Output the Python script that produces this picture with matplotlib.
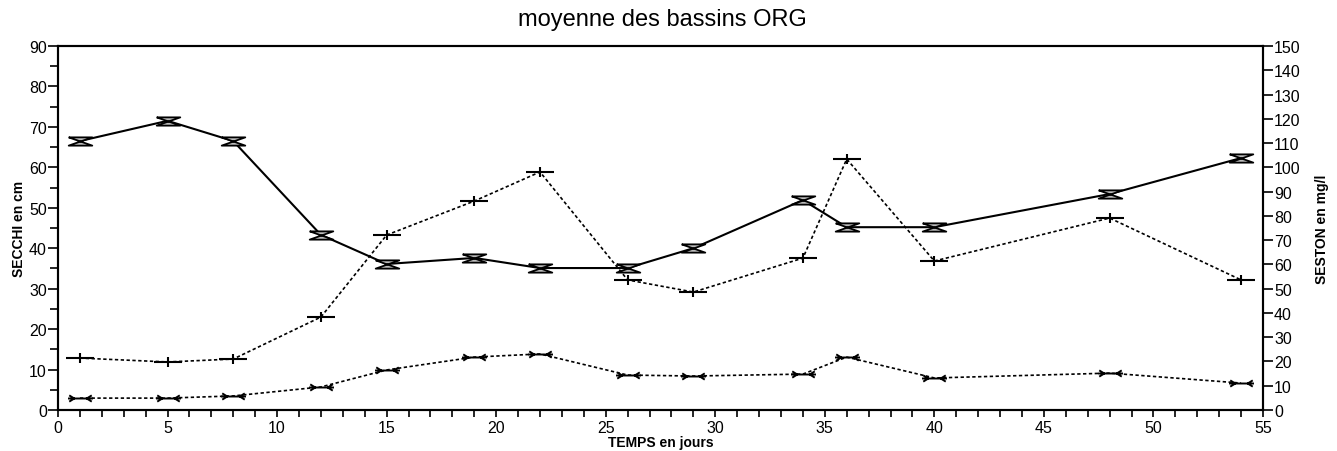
import matplotlib
matplotlib.use("Agg")
import matplotlib.pyplot as plt
from matplotlib.path import Path
from matplotlib.ticker import MultipleLocator

plt.rcParams['font.family'] = ['Liberation Sans', 'DejaVu Sans']

# Data
days = [1, 5, 8, 12, 15, 19, 22, 26, 29, 34, 36, 40, 48, 54]
secchi_cm = [66.5, 71.5, 66.5, 43.3, 36.1, 37.6, 35.1, 35.1, 40.0, 51.9, 45.2, 45.2, 53.4, 62.3]
seston_total = [21.4, 19.8, 21.0, 38.3, 72.1, 86.1, 98.1, 53.6, 48.6, 62.6, 103.4, 61.4, 79.1, 53.6]
seston_org = [4.9, 4.9, 5.8, 9.5, 16.5, 21.8, 23.1, 14.4, 14.0, 14.8, 21.8, 13.2, 15.2, 11.1]

title = "moyenne des bassins ORG"
xlabel = "TEMPS en jours"
ylabel_left = "SECCHI en cm"
ylabel_right = "SESTON en mg/l"

# Custom markers
hourglass = Path([(-1, 0.35), (1, 0.35), (-1, -0.35), (1, -0.35), (-1, 0.35)],
                 [Path.MOVETO, Path.LINETO, Path.LINETO, Path.LINETO, Path.LINETO])
plus_wide = Path([(-1, 0), (1, 0), (0, 0.35), (0, -0.35)],
                 [Path.MOVETO, Path.LINETO, Path.MOVETO, Path.LINETO])
bow_wide = Path([(-1, 0), (1, 0), (-0.9, 0.25), (-0.5, 0), (-0.9, -0.25),
                 (0.9, 0.25), (0.5, 0), (0.9, -0.25)],
                [Path.MOVETO, Path.LINETO, Path.MOVETO, Path.LINETO, Path.LINETO,
                 Path.MOVETO, Path.LINETO, Path.LINETO])

fig = plt.figure(figsize=(13.37, 4.52), dpi=100)
ax = fig.add_axes([58 / 1337, 1 - 411 / 452, (1263 - 58) / 1337, (411 - 47) / 452])
ax2 = ax.twinx()

ax.plot(days, secchi_cm, color='black', lw=1.5, marker=hourglass, markersize=17,
        markerfacecolor='#bbbbbb', markeredgecolor='black', markeredgewidth=1.3)
ax2.plot(days, seston_total, color='black', lw=1.2, ls=(0, (2, 1.5)), marker=plus_wide,
         markersize=20, markeredgewidth=1.5, markeredgecolor='black')
ax2.plot(days, seston_org, color='black', lw=1.2, ls=(0, (2, 1.5)), marker=bow_wide,
         markersize=18, markeredgewidth=1.4, markeredgecolor='black', markerfacecolor='none')

ax.set_xlim(0, 55)
ax.set_ylim(0, 90)
ax2.set_ylim(0, 150)

ax.xaxis.set_major_locator(MultipleLocator(5))
ax.xaxis.set_minor_locator(MultipleLocator(1))
ax.yaxis.set_major_locator(MultipleLocator(10))
ax.yaxis.set_minor_locator(MultipleLocator(5))
ax2.yaxis.set_major_locator(MultipleLocator(10))

ax.tick_params(axis='x', which='both', direction='out', length=5, width=1.2, labelsize=11.5, pad=2)
ax.tick_params(axis='y', which='major', direction='out', length=7, width=1.2, labelsize=11.5, pad=1)
ax.tick_params(axis='y', which='minor', direction='out', length=6, width=1.2)
ax2.tick_params(axis='y', which='major', direction='out', length=7, width=1.2, labelsize=11.5, pad=1)

for a in (ax, ax2):
    for s in a.spines.values():
        s.set_linewidth(1.5)

ax.set_xlabel(xlabel, fontsize=10, fontweight='bold', labelpad=0)
ax.set_ylabel(ylabel_left, fontsize=10, fontweight='bold', labelpad=2)
ax2.set_ylabel(ylabel_right, fontsize=10, fontweight='bold', labelpad=10)
fig.text(662 / 1337, 1 - 20 / 452, title, ha='center', va='center', fontsize=17)

fig.savefig("out.png", dpi=100)
